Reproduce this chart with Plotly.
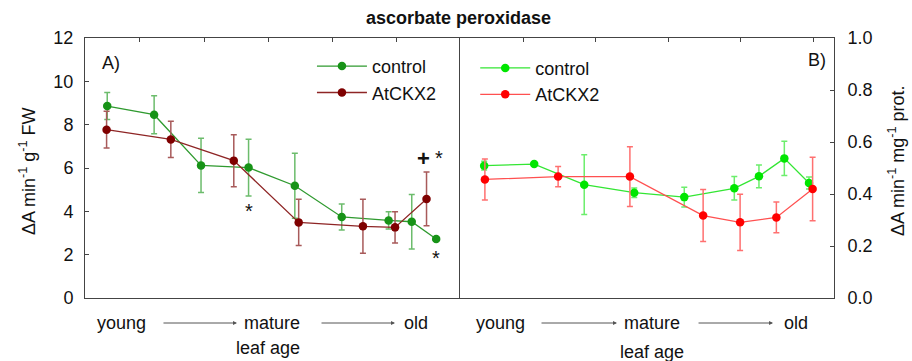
import plotly.graph_objects as go

# ---------------- data ----------------
# Panel A (per g FW)
a_ctrl_x = [0.49, 1.22, 1.95, 2.69, 3.41, 4.14, 4.87, 5.23, 5.61]
a_ctrl_y = [8.86, 8.46, 6.12, 6.02, 5.18, 3.74, 3.58, 3.52, 2.72]
a_ctrl_e = [0.62, 0.88, 1.25, 1.31, 1.50, 0.60, 0.40, 1.26, 0.05]
a_ckx_x = [0.48, 1.48, 2.46, 3.47, 4.47, 4.97, 5.46]
a_ckx_y = [7.77, 7.32, 6.34, 3.49, 3.31, 3.26, 4.57]
a_ckx_e = [0.85, 0.84, 1.20, 1.07, 1.25, 0.72, 1.24]

# Panel B (per mg protein)
b_ctrl_x = [0.46, 1.15, 1.84, 2.53, 3.22, 3.91, 4.25, 4.60, 4.94]
b_ctrl_y = [0.509, 0.515, 0.436, 0.405, 0.388, 0.422, 0.468, 0.537, 0.442]
b_ctrl_e = [0.017, 0.005, 0.115, 0.018, 0.038, 0.045, 0.044, 0.066, 0.023]
b_ckx_x = [0.47, 1.48, 2.47, 3.48, 3.99, 4.49, 4.99]
b_ckx_y = [0.456, 0.467, 0.467, 0.317, 0.291, 0.310, 0.419]
b_ckx_e = [0.079, 0.039, 0.115, 0.100, 0.108, 0.059, 0.122]

series_names = ["control", "AtCKX2"]
title_text = "ascorbate peroxidase"
ylab_a = "ΔA min<sup>-1</sup> g<sup>-1</sup> FW"
ylab_b = "ΔA min<sup>-1</sup> mg<sup>-1</sup> prot."

FONT = "Liberation Sans, Arial, sans-serif"
AX = "#444444"

fig = go.Figure()

def add(x, y, e, name, mcol, lcol, ecol, xa, ya, legend):
    fig.add_trace(go.Scatter(
        x=x, y=y, name=name, mode="lines+markers",
        xaxis=xa, yaxis=ya, legend=legend,
        line=dict(color=lcol, width=1.3),
        marker=dict(color=mcol, size=8.5),
        error_y=dict(type="data", array=e, color=ecol, thickness=1.5, width=3),
    ))

add(a_ctrl_x, a_ctrl_y, a_ctrl_e, series_names[0], "#179317", "#2f9a2f", "#6cbc6c", "x", "y", "legend")
add(a_ckx_x, a_ckx_y, a_ckx_e, series_names[1], "#7f0000", "#8e2525", "#a85a5a", "x", "y", "legend")
add(b_ctrl_x, b_ctrl_y, b_ctrl_e, series_names[0], "#00e600", "#33e633", "#6cee6c", "x2", "y2", "legend2")
add(b_ckx_x, b_ckx_y, b_ckx_e, series_names[1], "#ff0000", "#ff5050", "#ff7070", "x2", "y2", "legend2")

xcommon = dict(side="top", showticklabels=False, ticks="inside", ticklen=4,
               tickcolor=AX, showline=True, linecolor=AX, linewidth=1,
               mirror=True, showgrid=False, zeroline=False, dtick=1, tick0=0)
ycommon = dict(ticks="inside", ticklen=4, tickcolor=AX, showline=True,
               linecolor=AX, linewidth=1, mirror=True, showgrid=False,
               zeroline=False, tickfont=dict(size=18, color="#111"))

fig.update_layout(
    width=912, height=361,
    margin=dict(l=85, r=78, t=38, b=63),
    paper_bgcolor="white", plot_bgcolor="white",
    font=dict(family=FONT, size=18, color="#111"),
    showlegend=True,
    xaxis=dict(domain=[0, 0.4993], range=[0.144, 5.965], **xcommon),
    xaxis2=dict(domain=[0.5007, 1], range=[0.127, 5.285], anchor="y2", **xcommon),
    yaxis=dict(range=[0, 12], dtick=2, anchor="x", ticklabelstandoff=7, **ycommon),
    yaxis2=dict(range=[0, 1.0], dtick=0.2, tickformat=".1f", side="right", anchor="x2",
                ticklabelstandoff=9, **ycommon),
    legend=dict(x=0.303, y=0.962, xanchor="left", yanchor="top", itemwidth=50,
                bgcolor="rgba(0,0,0,0)", font=dict(size=18), tracegroupgap=0),
    legend2=dict(x=0.521, y=0.955, xanchor="left", yanchor="top", itemwidth=50,
                 bgcolor="rgba(0,0,0,0)", font=dict(size=18), tracegroupgap=0),
)

ann = []
def txt(text, x, y, xanchor="center", size=18, bold=False, angle=0, xref="paper", yref="paper"):
    ann.append(dict(text=("<b>%s</b>" % text) if bold else text, x=x, y=y,
                    xref=xref, yref=yref, xanchor=xanchor, yanchor="middle",
                    showarrow=False, textangle=angle, font=dict(size=size, family=FONT, color="#111")))

txt(title_text, 0.4993, 1.0769, bold=True, size=18)
txt("A)", 0.02, 0.9038, xanchor="left")
txt("B)", 0.992, 0.9154, xanchor="right")
txt(ylab_a, -0.0774, 0.4846, angle=-90)
txt(ylab_b, 1.0841, 0.5308, angle=-90)

# leaf age axis captions
for xs, ylev in [((0.0481, 0.2497, 0.4419), -0.0962), ((0.5541, 0.757, 0.9493), -0.0962)]:
    for label, xp in zip(["young", "mature", "old"], xs):
        txt(label, xp, ylev)
txt("leaf age", 0.2443, -0.1923)
txt("leaf age", 0.757, -0.2080)

for head, tail_off in [(0.2029, -75), (0.4139, -75), (0.7103, -77), (0.9186, -76)]:
    ann.append(dict(text="", x=head, y=-0.0962, xref="paper", yref="paper",
                    ax=tail_off, ay=0, showarrow=True, arrowhead=2, arrowsize=0.8,
                    arrowwidth=1, arrowcolor="#555"))

# significance marks (panel A)
txt("*", 2.69, 4.0, size=20, xref="x", yref="y")
txt("+", 5.42, 6.45, size=22, bold=True, xref="x", yref="y")
txt("*", 5.65, 6.45, size=20, xref="x", yref="y")
txt("*", 5.61, 1.85, size=20, xref="x", yref="y")

fig.update_layout(annotations=ann)
fig.write_html("out.html")
